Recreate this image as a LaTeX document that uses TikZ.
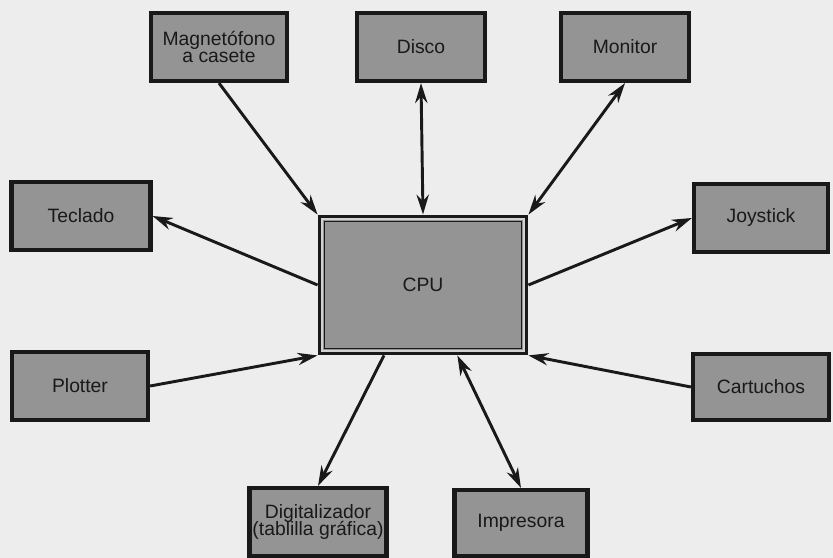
\documentclass[tikz,border=0pt]{standalone}
\usepackage{fontspec}
\setmainfont{Liberation Sans}
\usepackage{tikz}
\usetikzlibrary{arrows.meta}
\definecolor{paper}{gray}{0.93}
\definecolor{boxgray}{gray}{0.58}
\definecolor{ink}{gray}{0.1}

\begin{document}
\begin{tikzpicture}[x=0.03cm, y=0.03cm, >={Stealth[length=17pt, width=10.5pt]},
  font=\fontsize{16.5}{18}\selectfont,
  unit/.style={draw=ink, fill=boxgray, line width=3.6pt, minimum height=2.04cm, inner sep=2pt, align=center, text=ink},
  link/.style={ink, line width=2.5pt}]
  \fill[paper] (0,0) rectangle (833,558);
  \useasboundingbox (0,0) rectangle (833,558);

  % peripherals
  \node[unit, minimum width=4.08cm] (mag) at (219,511) {Magnetófono\\[-3pt]a casete};
  \node[unit, minimum width=3.84cm] (disco) at (421,511) {Disco};
  \node[unit, minimum width=3.84cm] (monitor) at (625,511) {Monitor};
  \node[unit, minimum width=4.17cm] (teclado) at (81,342) {Teclado};
  \node[unit, minimum width=4.02cm] (joystick) at (761,340) {Joystick};
  \node[unit, minimum width=4.08cm] (plotter) at (80,172) {Plotter};
  \node[unit, minimum width=4.08cm, minimum height=1.98cm] (cartuchos) at (761,171) {Cartuchos};
  \node[unit, minimum width=4.11cm] (digit) at (318,36) {Digitalizador\\[-3pt](tablilla gráfica)};
  \node[unit, minimum width=3.99cm, minimum height=1.98cm] (impresora) at (521,35) {Impresora};

  % central unit
  \node[unit, line width=5pt, minimum width=6.15cm, minimum height=4.05cm] (cpu) at (423,273) {CPU};
  \draw[paper!70!boxgray, line width=1.6pt] ([shift={(4pt,4pt)}]cpu.south west) rectangle ([shift={(-4pt,-4pt)}]cpu.north east);
  \draw[ink, line width=1.4pt] ([shift={(5.8pt,5.8pt)}]cpu.south west) rectangle ([shift={(-5.8pt,-5.8pt)}]cpu.north east);

  % connections
  \draw[link, ->] (mag.south) -- (cpu.north west);
  \draw[link, <->] (disco.south) -- (cpu.north);
  \draw[link, <->] (monitor.south) -- (cpu.north east);
  \draw[link, ->] (cpu.west) -- (teclado.east);
  \draw[link, ->] (cpu.east) -- (joystick.west);
  \draw[link, ->] (plotter.east) -- (cpu.south west);
  \draw[link, ->] (cartuchos.west) -- (cpu.south east);
  \draw[link, ->] (cpu.241) -- (digit.north);
  \draw[link, <->] (cpu.296) -- (impresora.north);
\end{tikzpicture}
\end{document}
